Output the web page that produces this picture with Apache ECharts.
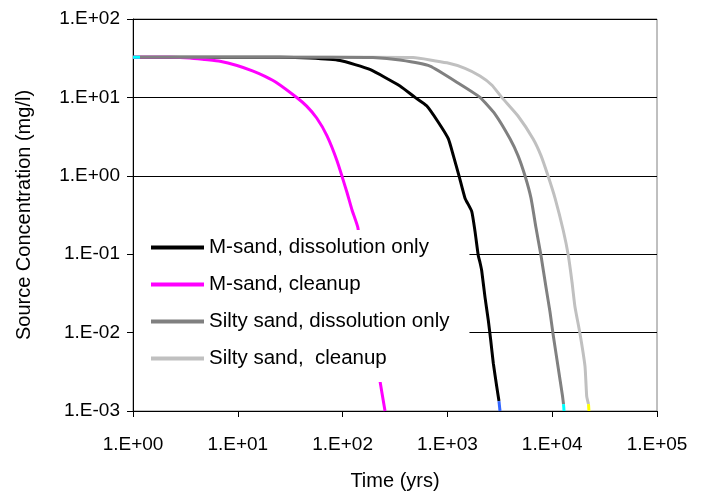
<!DOCTYPE html>
<html>
<head>
<meta charset="utf-8">
<script src="https://cdn.jsdelivr.net/npm/echarts@6/dist/echarts.min.js"></script>
<style>html,body{margin:0;padding:0;background:#fff;}#c{width:705px;height:496px;}</style>
</head>
<body>
<div id="c"></div>
<script>
// Series names (legend order)
const seriesNames = ['M-sand, dissolution only', 'M-sand, cleanup', 'Silty sand, dissolution only', 'Silty sand,  cleanup'];

// M-sand, dissolution only
const tMsandDiss = [1, 25.3, 48.9, 94.5, 182, 353, 491, 634, 819, 1020, 1138, 1291, 1473, 1706, 1833, 1972, 2047, 2125, 2284, 2456, 2589, 2742, 2953, 3105];
const cMsandDiss = [32.5, 32.5, 31.7, 29.5, 22.7, 14.0, 10, 7.81, 4.82, 2.97, 1.82, 1.0, 0.519, 0.352, 0.197, 0.0953, 0.0784, 0.0615, 0.0283, 0.0144, 0.00804, 0.00407, 0.00207, 0.00134];

// M-sand, cleanup
const tMsandClean = [1, 2.25, 3.50, 4.86, 6.76, 9.83, 14.0, 18.2, 23.5, 36.5, 45.4, 56.6, 71.0, 88.4, 110, 123, 140, 222, 254];
const cMsandClean = [32.5, 32.5, 31.9, 30.4, 28.9, 25.5, 21.6, 18.5, 15.4, 9.97, 7.74, 5.46, 3.24, 1.56, 0.617, 0.366, 0.217, 0.00293, 0.001];

// Silty sand, dissolution only
const tSiltyDiss = [1.166, 75.8, 195, 353, 682, 1320, 2047, 2846, 3958, 4718, 5500, 6277, 7004, 7817, 8724, 9530, 10180, 11360, 12540, 12820];
const cSiltyDiss = [32.5, 32.5, 32.2, 29.9, 25.0, 14.7, 10, 6.13, 2.97, 1.81, 1.0, 0.519, 0.217, 0.096, 0.0379, 0.0183, 0.00966, 0.0037, 0.00155, 0.00122];

// Silty sand, cleanup
const tSiltyClean = [1, 182, 470, 991, 1473, 2047, 2665, 3300, 4718, 6560, 7817, 9120, 10640, 12770, 14250, 15460, 16500, 18420, 20560, 21330, 22190];
const cSiltyClean = [32.5, 32.5, 32.2, 27.6, 23.4, 18.7, 14.3, 10, 5.79, 2.97, 1.81, 1.0, 0.519, 0.199, 0.096, 0.0438, 0.0212, 0.00966, 0.0037, 0.00155, 0.00122];

// Short coloured end segments seen in the picture
const tStartCyan = [1, 1.166];
const cStartCyan = [32.5, 32.5];
const tEndBlue = [3105, 3176];
const cEndBlue = [0.00134, 0.001];
const tEndCyan = [12820, 12970];
const cEndCyan = [0.00122, 0.001];
const tEndYellow = [22190, 22440];
const cEndYellow = [0.00122, 0.001];

// Axis ticks
const xTickExps = [0, 1, 2, 3, 4, 5];
const yTickExps = [-3, -2, -1, 0, 1, 2];

function pairs(t, c) { return t.map((v, i) => [v, c[i]]); }
function sci(v) {
  const e = Math.round(Math.log10(v));
  const s = e < 0 ? '-' : '+';
  const a = Math.abs(e);
  return '1.E' + s + (a < 10 ? '0' + a : a);
}

const FONT = 'Liberation Sans, Arial, sans-serif';
const chart = echarts.init(document.getElementById('c'), null, {renderer: 'canvas'});

function line(name, t, c, color, z, smooth) {
  return {
    name: name, type: 'line', data: pairs(t, c), symbol: 'none', z: z,
    smooth: smooth || false,
    lineStyle: {color: color, width: 3, join: 'round', cap: 'butt'},
    itemStyle: {color: color}, silent: true, animation: false, clip: true
  };
}

chart.setOption({
  animation: false,
  backgroundColor: '#fff',
  grid: {left: 133, right: 48, top: 19, bottom: 81, show: true, borderColor: '#808080', borderWidth: 1, backgroundColor: 'transparent'},
  xAxis: {
    type: 'log', logBase: 10, min: Math.pow(10, xTickExps[0]), max: Math.pow(10, xTickExps[xTickExps.length - 1]),
    name: 'Time (yrs)', nameLocation: 'middle', nameGap: 60,
    nameTextStyle: {fontFamily: FONT, fontSize: 20, color: '#000'},
    axisLine: {lineStyle: {color: '#000', width: 1}},
    axisTick: {show: true, length: 6, lineStyle: {color: '#000'}},
    minorTick: {show: false},
    axisLabel: {fontFamily: FONT, fontSize: 19, color: '#000', margin: 24, formatter: sci},
    splitLine: {show: false}
  },
  yAxis: {
    type: 'log', logBase: 10, min: Math.pow(10, yTickExps[0]), max: Math.pow(10, yTickExps[yTickExps.length - 1]),
    name: 'Source Concentration (mg/l)', nameLocation: 'middle', nameGap: 99,
    nameTextStyle: {fontFamily: FONT, fontSize: 20, color: '#000'},
    axisLine: {lineStyle: {color: '#000', width: 1}},
    axisTick: {show: true, length: 6, lineStyle: {color: '#000'}},
    axisLabel: {fontFamily: FONT, fontSize: 19, color: '#000', margin: 13, formatter: sci},
    splitLine: {show: true, lineStyle: {color: '#000', width: 1}}
  },
  legend: {
    data: seriesNames,
    orient: 'vertical', left: 134, top: 230,
    padding: [7, 20, 13, 17],
    backgroundColor: '#fff',
    itemWidth: 53, itemHeight: 4, itemGap: 16,
    icon: 'rect',
    textStyle: {fontFamily: FONT, fontSize: 20.5, color: '#000', lineHeight: 20},
    selectedMode: false,
    z: 10
  },
  series: [
    line(seriesNames[3], tSiltyClean, cSiltyClean, '#c0c0c0', 2, 0.15),
    line(seriesNames[0], tMsandDiss, cMsandDiss, '#000000', 3, 0.15),
    line(seriesNames[1], tMsandClean, cMsandClean, '#ff00ff', 4, 0.15),
    line(seriesNames[2], tSiltyDiss, cSiltyDiss, '#808080', 5, 0.15),
    line('startCyan', tStartCyan, cStartCyan, '#00ffff', 6),
    line('endBlue', tEndBlue, cEndBlue, '#3366ff', 6),
    line('endCyan', tEndCyan, cEndCyan, '#00ffff', 6),
    line('endYellow', tEndYellow, cEndYellow, '#ffff00', 6)
  ]
});
</script>
</body>
</html>
